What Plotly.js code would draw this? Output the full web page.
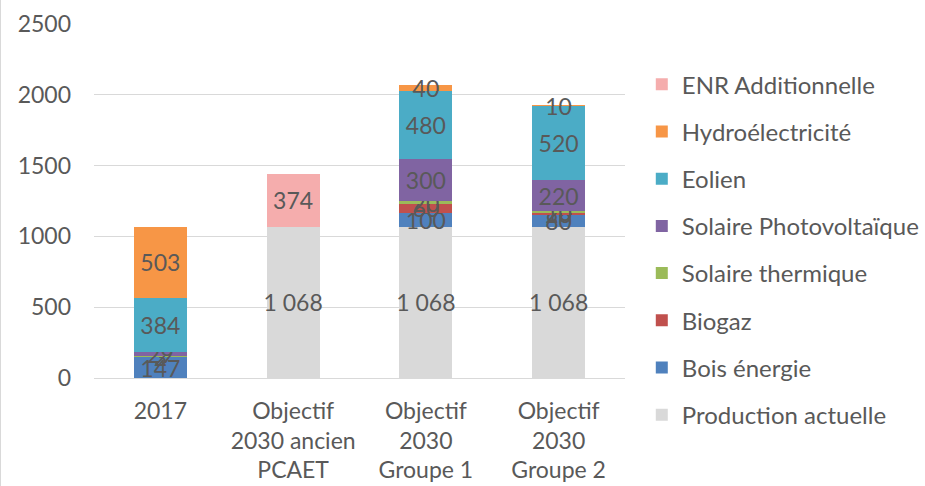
<!DOCTYPE html>
<html>
<head>
<meta charset="utf-8">
<script src="https://cdn.plot.ly/plotly-3.0.1.min.js"></script>
<style>
html,body{margin:0;padding:0;background:#fff;}
#chart{width:924px;height:486px;border-left:1px solid #D9D9D9;}
</style>
</head>
<body>
<div id="chart"></div>
<script>
var categories = ["2017", "Objectif<br>2030 ancien<br>PCAET", "Objectif<br>2030<br>Groupe 1", "Objectif<br>2030<br>Groupe 2"];
var seriesNames = ["Production actuelle", "Bois énergie", "Biogaz", "Solaire thermique", "Solaire Photovoltaïque", "Eolien", "Hydroélectricité", "ENR Additionnelle"];
var productionActuelle = [null, 1068, 1068, 1068];
var boisEnergie        = [147, null, 100, 80];
var biogaz             = [3, null, 60, 20];
var solaireThermique   = [2, null, 20, 10];
var solairePV          = [29, null, 300, 220];
var eolien             = [384, null, 480, 520];
var hydro              = [503, null, 40, 10];
var enrAdditionnelle   = [null, 374, null, null];
var yTicks = [0, 500, 1000, 1500, 2000, 2500];

var seriesValues = [productionActuelle, boisEnergie, biogaz, solaireThermique, solairePV, eolien, hydro, enrAdditionnelle];
var colors = ["#D9D9D9", "#4F81BD", "#C0504D", "#9BBB59", "#8064A2", "#4BACC6", "#F79646", "#F5ADAD"];
var FONT = "Lato, 'Open Sans', sans-serif";
var TXT = "#595959";

var traces = seriesValues.map(function(vals, i){
  return {
    type: "bar",
    name: seriesNames[i],
    x: categories,
    y: vals,
    legendgroup: "g" + i,
    legendrank: 1000 - i,
    marker: {color: colors[i], line: {width: 0}},
    texttemplate: "%{y:,}",
    textposition: "inside",
    insidetextanchor: "middle",
    constraintext: "none",
    textangle: 0,
    insidetextfont: {family: FONT, size: 23, color: TXT},
    cliponaxis: false,
    hoverinfo: "skip"
  };
});

var layout = {
  width: 924, height: 486,
  margin: {l: 93, r: 300, t: 24, b: 108},
  paper_bgcolor: "#fff", plot_bgcolor: "#fff",
  barmode: "stack",
  bargap: 0.6,
  separators: ", ",
  font: {family: FONT, size: 23, color: TXT},
  showlegend: true,
  legend: {
    xref: "container", yref: "container",
    x: 0.6935, xanchor: "left", y: 0.872, yanchor: "top",
    traceorder: "grouped",
    tracegroupgap: 13,
    maxheight: 600,
    font: {family: FONT, size: 24, color: TXT},
    bgcolor: "rgba(0,0,0,0)"
  },
  xaxis: {
    type: "category",
    showgrid: false, showline: false, zeroline: false,
    ticks: "outside", ticklen: 12, tickcolor: "rgba(0,0,0,0)",
    tickfont: {family: FONT, size: 23, color: TXT},
    fixedrange: true
  },
  yaxis: {
    range: [0, 2500],
    tickvals: yTicks,
    showgrid: true, gridcolor: "#D9D9D9", gridwidth: 1,
    zeroline: true, zerolinecolor: "#D9D9D9", zerolinewidth: 1,
    showline: false,
    ticklabelstandoff: 22,
    tickfont: {family: FONT, size: 23, color: TXT},
    fixedrange: true
  },
  hovermode: false
};

Plotly.newPlot("chart", traces, layout, {displayModeBar: false, staticPlot: true});
</script>
</body>
</html>
